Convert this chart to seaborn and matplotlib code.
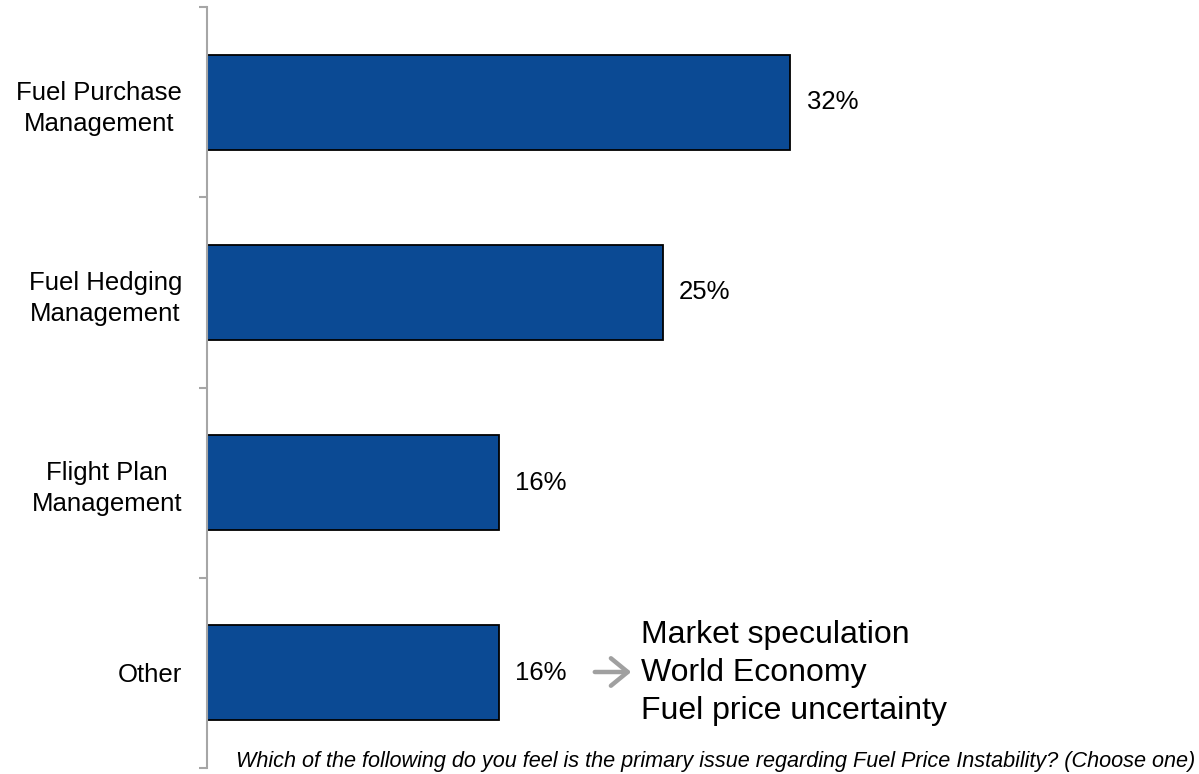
import matplotlib
matplotlib.use("Agg")
import matplotlib.pyplot as plt
import seaborn as sns
import pandas as pd

categories = ["Fuel Purchase\nManagement", "Fuel Hedging\nManagement",
              "Flight Plan\nManagement", "Other"]
shares = [32, 25, 16, 16]
other_reasons = ["Market speculation", "World Economy", "Fuel price uncertainty"]
question = ("Which of the following do you feel is the primary issue regarding "
            "Fuel Price Instability? (Choose one)")

sns.set_theme(style="white")
plt.rcParams["font.family"] = ["Liberation Sans", "DejaVu Sans"]
plt.rcParams["text.color"] = "black"
plt.rcParams["ytick.labelcolor"] = "black"

df = pd.DataFrame({"category": categories, "share": shares})

fig = plt.figure(figsize=(11.99, 7.74), dpi=100)
ax = fig.add_axes([207 / 1199, 6 / 774, 1 - 207 / 1199, 1 - 13 / 774])

sns.barplot(data=df, y="category", x="share", orient="h", color="#0b4a94",
            saturation=1, width=0.5, edgecolor="black", linewidth=1.3, ax=ax)

ax.set_xlim(0, (1199 - 207) / 18.22)
ax.set_ylim(len(categories) - 0.5, -0.5)
ax.set_xlabel("")
ax.set_ylabel("")
ax.set_xticks([])

for c in ax.containers:
    ax.bar_label(c, labels=[f"{v}%" for v in shares], padding=12, fontsize=18.5,
                 color="black")

# category ticks sit between the bars
ax.set_yticks([i - 0.5 for i in range(len(categories) + 1)], minor=True)
ax.tick_params(axis="y", which="minor", length=6, width=1.5, color="#a6a6a6", left=True)
ax.tick_params(axis="y", which="major", length=0, pad=18, labelsize=18.5,
               labelcolor="black")
for lbl in ax.get_yticklabels():
    lbl.set_multialignment("center")
    lbl.set_linespacing(1.38)

for s in ["top", "right", "bottom"]:
    ax.spines[s].set_visible(False)
ax.spines["left"].set_color("#a6a6a6")
ax.spines["left"].set_linewidth(1.5)

# breakdown of the "Other" answers
ax.annotate("", xy=(634 / 1199, 1 - 672 / 774), xytext=(592 / 1199, 1 - 672 / 774),
            xycoords="figure fraction", textcoords="figure fraction",
            arrowprops=dict(arrowstyle="->,head_length=0.55,head_width=0.45",
                            color="#a0a0a0", lw=3.2, mutation_scale=22))
fig.text(641 / 1199, 1 - 673 / 774, "\n".join(other_reasons), fontsize=23,
         ha="left", va="center", linespacing=1.36, color="black")

fig.text(1195 / 1199, 1 - 761 / 774, question, fontsize=15.6, style="italic",
         ha="right", va="center", color="black")

fig.savefig("out.png", dpi=100)
